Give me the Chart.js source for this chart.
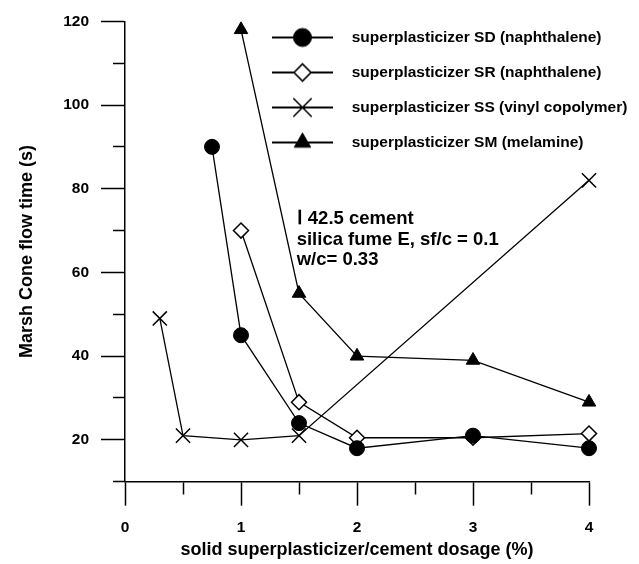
<!DOCTYPE html>
<html>
<head>
<meta charset="utf-8">
<script src="https://cdn.jsdelivr.net/npm/chart.js@4/dist/chart.umd.min.js"></script>
<style>
  html, body { margin: 0; padding: 0; background: #fff; }
  canvas { display: block; }
</style>
</head>
<body>
<canvas id="chart" width="639" height="564"></canvas>
<script>
// Marsh cone flow time (s) versus solid superplasticizer/cement dosage (%)
const dosageSD = [0.75, 1, 1.5, 2, 3, 4];
const flowSD   = [90, 45, 24, 18, 21, 18];
const dosageSR = [1, 1.5, 2, 3, 4];
const flowSR   = [70, 29, 20.5, 20.5, 21.5];
const dosageSS = [0.3, 0.5, 1, 1.5, 4];
const flowSS   = [49, 21, 20, 21, 82];
const dosageSM = [1, 1.5, 2, 3, 4];
const flowSM   = [118, 55, 40, 39, 29];

const seriesNames = [
  'superplasticizer SD (naphthalene)',
  'superplasticizer SR (naphthalene)',
  'superplasticizer SS (vinyl copolymer)',
  'superplasticizer SM (melamine)'
];

const xMajorTicks = [0, 1, 2, 3, 4];
const xMinorTicks = [0.5, 1.5, 2.5, 3.5];
const xTickLabels = ['0', '1', '2', '3', '4'];
const yMajorTicks = [20, 40, 60, 80, 100, 120];
const yMinorTicks = [10, 30, 50, 70, 90, 110];
const yTickLabels = ['20', '40', '60', '80', '100', '120'];

const xTitle = 'solid superplasticizer/cement dosage (%)';
const yTitle = 'Marsh Cone flow time (s)';

const noteLines = ['\u2160 42.5 cement', 'silica fume E, sf/c = 0.1', 'w/c= 0.33'];
const noteAnchor = { x: 1.48, y: 71.5 };

const FAMILY = '"Liberation Sans", Arial, Helvetica, sans-serif';
const INK = '#000';

function pairs(xs, ys) {
  return xs.map((x, i) => ({ x: x, y: ys[i] }));
}

// Legend icons: a short line with the series marker in its middle
function legendIcon(style, radius, fill, borderWidth) {
  const c = document.createElement('canvas');
  c.width = 72;
  c.height = 28;
  const g = c.getContext('2d');
  g.strokeStyle = INK;
  g.lineWidth = 1.8;
  g.beginPath();
  g.moveTo(0, 14);
  g.lineTo(61, 14);
  g.stroke();
  g.fillStyle = fill;
  g.strokeStyle = INK;
  g.lineWidth = borderWidth;
  if (Chart.helpers && Chart.helpers.drawPoint) {
    Chart.helpers.drawPoint(g, { pointStyle: style, radius: radius, rotation: 0, borderWidth: borderWidth }, 30.5, 14);
  }
  return c;
}

const legendIcons = [
  legendIcon('circle', 9, INK, 1),
  legendIcon('rectRot', 8.5, '#fff', 1.6),
  legendIcon('crossRot', 13, INK, 1.6),
  legendIcon('triangle', 9.5, INK, 1)
];

function seriesStyle(style, radius, fill, borderWidth) {
  return {
    showLine: true,
    tension: 0,
    borderColor: INK,
    borderWidth: 1.3,
    pointStyle: style,
    pointRadius: radius,
    pointBackgroundColor: fill,
    pointBorderColor: INK,
    pointBorderWidth: borderWidth,
    clip: false
  };
}

// Places the legend block in the upper right of the plot
const legendPlacement = {
  id: 'legendPlacement',
  afterLayout(chart) {
    const lg = chart.legend;
    if (!lg) return;
    const pad = lg.options.labels.padding;
    lg.left = 272 - pad;
    lg.top = 29.75 - pad;
    lg.right = 639;
    lg.bottom = 230;
    lg.width = lg.right - lg.left;
    lg.height = lg.bottom - lg.top;
  }
};

// Test conditions written inside the plot
const conditionNote = {
  id: 'conditionNote',
  afterDraw(chart) {
    const { ctx, scales } = chart;
    const px = scales.x.getPixelForValue(noteAnchor.x);
    const py = scales.y.getPixelForValue(noteAnchor.y);
    ctx.save();
    ctx.font = 'bold 18.5px ' + FAMILY;
    ctx.fillStyle = INK;
    ctx.textAlign = 'left';
    ctx.textBaseline = 'alphabetic';
    noteLines.forEach((t, i) => ctx.fillText(t, px, py + i * 20.3));
    ctx.restore();
  }
};

const tickFont = { family: FAMILY, size: 15.5, weight: 'bold' };
const titleFont = { family: FAMILY, size: 18, weight: 'bold' };

new Chart(document.getElementById('chart'), {
  type: 'line',
  data: {
    datasets: [
      Object.assign({ label: seriesNames[0], data: pairs(dosageSD, flowSD) }, seriesStyle('circle', 7.5, INK, 1)),
      Object.assign({ label: seriesNames[1], data: pairs(dosageSR, flowSR) }, seriesStyle('rectRot', 7.5, '#fff', 1.5)),
      Object.assign({ label: seriesNames[2], data: pairs(dosageSS, flowSS) }, seriesStyle('crossRot', 10, INK, 1.5)),
      Object.assign({ label: seriesNames[3], data: pairs(dosageSM, flowSM) }, seriesStyle('triangle', 7.8, INK, 1))
    ]
  },
  options: {
    responsive: false,
    animation: false,
    devicePixelRatio: 1,
    events: [],
    layout: { padding: { left: 0, top: 15.3, right: 50, bottom: 0 } },
    plugins: {
      tooltip: { enabled: false },
      legend: {
        display: true,
        position: 'chartArea',
        align: 'start',
        labels: {
          usePointStyle: true,
          pointStyleWidth: 72,
          padding: 19.5,
          color: INK,
          font: { family: FAMILY, size: 15.5, weight: 'bold' },
          generateLabels: (chart) => chart.data.datasets.map((ds, i) => ({
            text: ds.label,
            pointStyle: legendIcons[i],
            fillStyle: 'transparent',
            strokeStyle: 'transparent',
            lineWidth: 0,
            fontColor: INK,
            hidden: false,
            datasetIndex: i
          }))
        }
      }
    },
    scales: {
      x: {
        type: 'linear',
        min: 0,
        max: 4,
        afterBuildTicks: (axis) => {
          axis.ticks = xMajorTicks.concat(xMinorTicks).sort((a, b) => a - b).map(v => ({ value: v }));
        },
        afterFit: (axis) => { axis.height = 82.3; },
        ticks: {
          autoSkip: false,
          maxRotation: 0,
          padding: 12.5,
          color: INK,
          font: tickFont,
          callback: (v) => {
            const i = xMajorTicks.indexOf(v);
            return i >= 0 ? xTickLabels[i] : '';
          }
        },
        grid: {
          drawOnChartArea: false,
          drawTicks: true,
          tickLength: 24,
          tickWidth: 1.5,
          tickColor: INK,
          tickBorderDash: (ctx) => (ctx.tick && xMinorTicks.includes(ctx.tick.value)) ? [12, 100] : []
        },
        border: { display: true, color: INK, width: 1.5 },
        title: {
          display: true,
          text: xTitle,
          color: INK,
          font: titleFont,
          padding: { top: 0, bottom: 3.5 }
        }
      },
      y: {
        type: 'linear',
        min: 10,
        max: 120,
        afterBuildTicks: (axis) => {
          axis.ticks = yMinorTicks.concat(yMajorTicks).sort((a, b) => a - b).map(v => ({ value: v }));
        },
        afterFit: (axis) => { axis.width = 125; },
        ticks: {
          autoSkip: false,
          padding: 12,
          color: INK,
          font: tickFont,
          callback: (v) => {
            const i = yMajorTicks.indexOf(v);
            return i >= 0 ? yTickLabels[i] : '';
          }
        },
        grid: {
          drawOnChartArea: false,
          drawTicks: true,
          tickLength: 24,
          tickWidth: 1.5,
          tickColor: INK,
          tickBorderDash: (ctx) => (ctx.tick && yMinorTicks.includes(ctx.tick.value)) ? [0, 12, 12, 100] : []
        },
        border: { display: true, color: INK, width: 1.5 },
        title: {
          display: true,
          text: yTitle,
          color: INK,
          font: titleFont,
          padding: { top: 16.6, bottom: 0 }
        }
      }
    }
  },
  plugins: [legendPlacement, conditionNote]
});
</script>
</body>
</html>
